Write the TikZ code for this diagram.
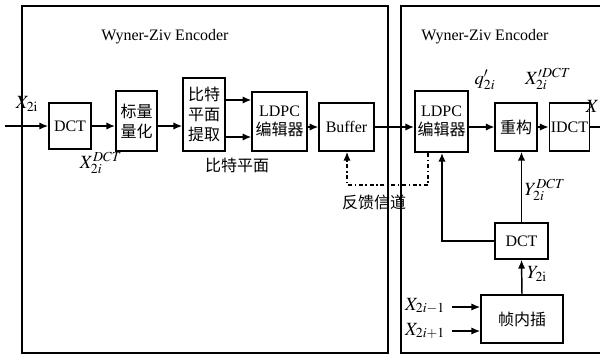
\documentclass[tikz,border=0pt]{standalone}
\usepackage{mathptmx}
\usepackage{fontspec}
\setmainfont{Liberation Serif}
\newfontfamily\cjk{Noto Sans CJK SC}
\usetikzlibrary{arrows.meta}
\tikzset{
  every node/.style={font=\fontsize{12}{14}\selectfont},
  blk/.style={draw, line width=1.3pt, align=center, inner sep=1pt},
  cblk/.style={blk, font=\fontsize{12}{15}\selectfont\cjk},
  arr/.style={line width=1.1pt, -{Latex[length=6.5pt,width=5.5pt]}},
  frame/.style={line width=1.5pt},
  fb/.style={line width=1.1pt, dash dot, -{Latex[length=6.5pt,width=5.5pt]}},
  sym/.style={font=\fontsize{14}{16}\selectfont, inner sep=1pt},
}

\begin{document}
\begin{tikzpicture}[x=0.75pt, y=-0.75pt]
  \useasboundingbox (0,0) rectangle (600,355);
  % encoder and decoder frames
  \draw[frame] (22,6) rectangle (388,353);
  \draw[frame] (401,6) rectangle (612,353);
  \node (encT) at (165,37) {Wyner-Ziv Encoder};
  \node (decT) at (485,37) {Wyner-Ziv Encoder};
  % encoder blocks
  \node[blk, minimum width=31.5pt, minimum height=34.5pt] (dct) at (70,126) {DCT};
  \node[cblk, minimum width=31pt, minimum height=45pt] (quant) at (136.5,121) {标量\\量化};
  \node[cblk, minimum width=31.5pt, minimum height=55pt] (bitp) at (204,114.5) {比特\\平面\\提取};
  \node[blk, minimum width=41pt, minimum height=44pt] (ldpcA) at (279.5,121.5) {LDPC\\{\cjk 编辑器}};
  \node[blk, minimum width=41pt, minimum height=36pt] (buffer) at (346.5,127) {Buffer};
  % decoder blocks
  \node[blk, minimum width=40pt, minimum height=46pt] (ldpcB) at (441.5,121.5) {LDPC\\{\cjk 编辑器}};
  \node[cblk, minimum width=31pt, minimum height=36pt] (recon) at (516,127) {重构};
  \node[blk, minimum width=29pt, minimum height=36pt] (idct) at (569.5,127) {IDCT};
  \node[blk, minimum width=40pt, minimum height=27pt] (dctB) at (521.5,241) {DCT};
  \node[cblk, minimum width=61.5pt, minimum height=36pt] (interp) at (522,319) {帧内插};
  % free ends and bends
  \coordinate (in) at (5,126);
  \coordinate (out) at (600,127);
  \coordinate (bu) at (0,100);
  \coordinate (bd) at (0,137);
  \coordinate (fbA) at (428,185);
  \coordinate (fbB) at (347,185);
  \coordinate (side) at (442,0);
  \coordinate (xa) at (452,307);
  \coordinate (xb) at (452,331);
  % connectors
  \draw[arr] (in) -- (dct);
  \draw[arr] (dct) -- (quant.west |- dct);
  \draw[arr] (quant.east |- dct) -- (bitp.west |- dct);
  \draw[arr] (bitp.east |- bu) -- (ldpcA.west |- bu);
  \draw[arr] (bitp.east |- bd) -- (ldpcA.west |- bd);
  \draw[arr] (ldpcA.east |- buffer) -- (buffer);
  \draw[arr] (buffer) -- (ldpcB.west |- buffer);
  \draw[arr] (ldpcB.east |- recon) -- (recon);
  \draw[arr] (recon) -- (idct);
  \draw[line width=1.1pt] (idct) -- (out);
  \draw[fb] (ldpcB.south -| fbA) -- (fbA) -- (fbB) -- (buffer.south -| fbB);
  \draw[arr] (dctB.west) -- (dctB.west -| side) -- (ldpcB.south -| side);
  \draw[arr] (dctB.north) -- (dctB.north |- recon.south);
  \draw[arr] (interp.north) -- (dctB.south);
  \draw[arr] (xa) -- (xa -| interp.west);
  \draw[arr] (xb) -- (xb -| interp.west);
  % labels
  \node[sym] (lin) at (27,104) {$X_{\mathrm{2i}}$};
  \node[sym] (ldct) at (101,163) {$X_{2i}^{DCT}$};
  \node[font=\fontsize{12}{14}\selectfont\cjk] (lbit) at (237,165) {比特平面};
  \node[font=\fontsize{12}{14}\selectfont\cjk] (lfb) at (374,202) {反馈信道};
  \node[sym] (lq) at (485,80) {$q'_{2i}$};
  \node[sym] (lxr) at (548,79) {$X'^{DCT}_{2i}$};
  \node[sym] (ly) at (545,190) {$Y^{DCT}_{2i}$};
  \node[sym] (lys) at (537,274) {$Y_{\mathrm{2i}}$};
  \node[sym] (lxa) at (425,306) {$X_{2i-1}$};
  \node[sym] (lxb) at (425,331) {$X_{2i+1}$};
  \node[sym, anchor=east, inner sep=0.5pt] (lout) at (600,106) {$X$};
\end{tikzpicture}
\end{document}
